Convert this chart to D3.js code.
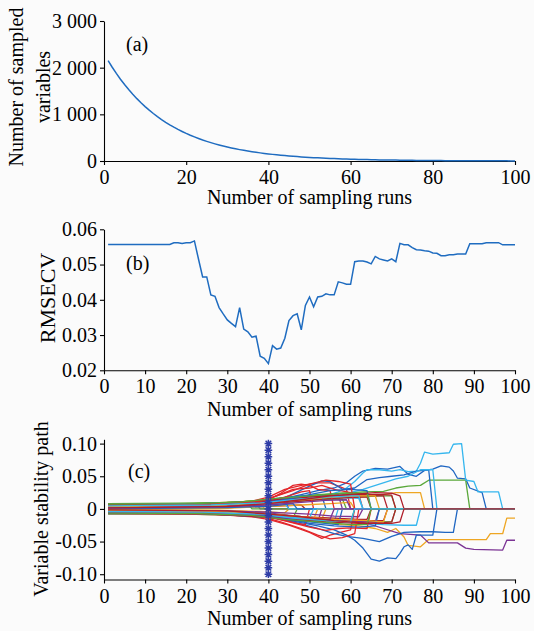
<!DOCTYPE html>
<html>
<head>
<meta charset="utf-8">
<script src="https://cdn.jsdelivr.net/npm/d3@7"></script>
<style>
  body { margin: 0; background: #fbfbfb; }
  svg { display: block; }
</style>
</head>
<body>
<svg id="chart" width="534" height="631"></svg>
<script>
// ---- data ----
var runs = d3.range(1, 101);

// (a) number of sampled variables per run
var sampledVars = [2150, 2009, 1877, 1753, 1638, 1531, 1430, 1336, 1248, 1166,
  1090, 1018, 951, 889, 830, 776, 725, 677, 633, 591,
  552, 516, 482, 450, 421, 393, 367, 343, 321, 300,
  280, 261, 244, 228, 213, 199, 186, 174, 163, 152,
  142, 133, 124, 116, 108, 101, 94, 88, 82, 77,
  72, 67, 63, 59, 55, 51, 48, 45, 42, 39,
  36, 34, 32, 30, 28, 26, 24, 23, 21, 20,
  19, 17, 16, 15, 14, 13, 12, 11, 11, 10,
  9, 9, 8, 8, 7, 7, 6, 6, 5, 5,
  5, 4, 4, 4, 3, 3, 3, 3, 2, 2];

// (b) RMSECV per run
var rmsecv = [0.0557, 0.0557, 0.0557, 0.0557, 0.0557, 0.0557, 0.0557, 0.0557, 0.0557, 0.0557,
  0.0557, 0.0557, 0.0557, 0.0557, 0.0557, 0.0557, 0.0562, 0.0562, 0.0560, 0.0562,
  0.0562, 0.0567, 0.0515, 0.0465, 0.0465, 0.0414, 0.0410, 0.0378, 0.0360, 0.0343,
  0.0333, 0.0324, 0.0378, 0.0317, 0.0309, 0.0294, 0.0297, 0.0240, 0.0234, 0.0219,
  0.0270, 0.0260, 0.0263, 0.0291, 0.0341, 0.0355, 0.0360, 0.0315, 0.0384, 0.0408,
  0.0380, 0.0408, 0.0410, 0.0417, 0.0414, 0.0414, 0.0451, 0.0448, 0.0444, 0.0444,
  0.0508, 0.0510, 0.0510, 0.0507, 0.0502, 0.0523, 0.0516, 0.0513, 0.0510, 0.0516,
  0.0508, 0.0560, 0.0556, 0.0556, 0.0548, 0.0542, 0.0541, 0.0539, 0.0538, 0.0533,
  0.0532, 0.0525, 0.0525, 0.0528, 0.0528, 0.0530, 0.0530, 0.0530, 0.0559, 0.0559,
  0.0559, 0.0559, 0.0562, 0.0562, 0.0562, 0.0562, 0.0556, 0.0556, 0.0556, 0.0556];

// (c) regression coefficient paths, [run, coefficient] vertices, one group per line colour
var pathsBlue = [
  [[1,.003],[20,.004],[35,.008],[40,.01],[44,.016],[48,.022],[52,.028],[56,.032],[59,.04],[61,.05],[63,.058],[66,.062],[69,.061],[72,.065],[74,.053],[76,.05],[78,.059],[80,.061],[82,.066],[84,.064],[85,.058],[86,.047],[88,.046],[89,.032],[92,.025],[93,0],[100,0]],
  [[1,.001],[30,.005],[40,.009],[45,.02],[50,.035],[53,.043],[55,.042],[58,.03],[61,.032],[64,.045],[67,.048],[70,.05],[73,.052],[76,.058],[79,.06],[80,0],[100,0]],
  [[1,-.002],[25,-.004],[38,-.008],[42,-.014],[47,-.02],[52,-.026],[56,-.032],[59,-.04],[61,-.048],[63,-.06],[65,-.077],[67,-.08],[69,-.075],[71,-.076],[72,-.068],[73,-.058],[74,-.055],[75,-.062],[76,-.04],[80,-.04],[81,0],[100,0]],
  [[1,-.004],[30,-.006],[40,-.011],[46,-.02],[52,-.03],[56,-.038],[59,-.042],[63,-.045],[67,-.05],[70,-.042],[73,-.036],[77,-.035],[80,-.035],[83,-.036],[85,-.036],[86,0],[100,0]],
  [[1,.006],[20,.007],[36,.011],[42,.016],[48,.02],[53,.02],[54,0],[100,0]],
  [[1,-.006],[25,-.007],[38,-.012],[44,-.016],[50,-.02],[57,-.024],[58,0],[100,0]],
  [[1,0],[30,.002],[40,.004],[46,.008],[47,0],[100,0]],
  [[1,.0045],[26,.005],[38,.009],[44,.014],[50,.022],[55,.028],[60,.03],[64,.028],[65,0],[100,0]],
  [[1,-.0035],[24,-.004],[38,-.009],[44,-.014],[50,-.022],[56,-.026],[62,-.028],[66,-.026],[67,0],[100,0]]
];
var pathsRed = [
  [[1,.005],[20,.006],[36,.012],[40,.018],[44,.03],[48,.036],[52,.04],[55,.04],[57,.035],[59,.03],[60,0],[100,0]],
  [[1,-.005],[22,-.006],[36,-.012],[40,-.016],[45,-.025],[50,-.036],[53,-.045],[55,-.04],[58,-.035],[60,-.032],[61,0],[100,0]],
  [[1,.002],[25,.004],[38,.01],[42,.02],[46,.03],[50,.032],[53,.036],[56,.03],[60,.025],[62,.022],[63,0],[100,0]],
  [[1,-.002],[28,-.005],[40,-.012],[45,-.02],[50,-.028],[54,-.033],[57,-.03],[60,-.029],[64,-.03],[65,0],[100,0]],
  [[1,.007],[18,.007],[35,.009],[40,.012],[44,.018],[48,.026],[50,.028],[51,0],[100,0]],
  [[1,-.007],[20,-.008],[36,-.01],[42,-.015],[47,-.022],[49,-.024],[50,0],[100,0]],
  [[1,.0035],[30,.006],[40,.014],[43,.024],[46,.036],[48,.038],[50,.036],[52,.03],[55,.028],[56,0],[100,0]],
  [[1,.0055],[24,.007],[38,.012],[42,.02],[46,.028],[50,.038],[54,.044],[57,.042],[60,.038],[61,0],[100,0]],
  [[1,-.0055],[24,-.006],[38,-.011],[43,-.02],[48,-.03],[52,-.04],[55,-.046],[58,-.044],[61,-.038],[62,0],[100,0]]
];
var pathsYellow = [
  [[1,-.003],[25,-.005],[38,-.008],[45,-.014],[52,-.02],[58,-.024],[62,-.026],[66,-.03],[69,-.036],[71,-.03],[73,-.043],[74,-.056],[77,-.058],[79,-.047],[93,-.047],[94,-.038],[97,-.038],[98,-.014],[100,-.014]],
  [[1,.002],[25,.003],[38,.006],[44,.01],[50,.014],[56,.017],[60,.019],[64,.02],[68,.022],[71,.025],[77,.025],[78,0],[100,0]],
  [[1,.006],[22,.008],[34,.011],[38,.013],[39,0],[100,0]],
  [[1,-.006],[20,-.007],[36,-.01],[42,-.013],[48,-.015],[53,-.016],[54,0],[100,0]],
  [[1,0],[30,.001],[40,.004],[48,.006],[55,.008],[60,.01],[61,0],[100,0]],
  [[1,-.001],[28,-.002],[38,-.004],[44,-.006],[45,0],[100,0]],
  [[1,-.0045],[28,-.006],[40,-.01],[46,-.014],[51,-.016],[52,0],[100,0]],
  [[1,.0035],[26,.005],[40,.009],[48,.014],[55,.018],[62,.02],[66,.02],[67,0],[100,0]],
  [[1,-.0025],[26,-.004],[40,-.008],[48,-.012],[56,-.016],[64,-.018],[68,-.02],[69,0],[100,0]]
];
var pathsPurple = [
  [[1,-.001],[30,-.003],[40,-.006],[48,-.012],[55,-.016],[60,-.018],[64,-.022],[68,-.03],[72,-.038],[77,-.04],[79,-.052],[86,-.052],[88,-.06],[90,-.062],[97,-.063],[98,-.048],[100,-.048]],
  [[1,.003],[24,.004],[36,.007],[42,.012],[48,.018],[52,.02],[57,.022],[58,0],[100,0]],
  [[1,-.005],[20,-.006],[34,-.008],[40,-.012],[46,-.018],[52,-.02],[53,0],[100,0]],
  [[1,.005],[30,.006],[37,.008],[38,0],[100,0]],
  [[1,-.0045],[30,-.006],[41,-.01],[49,-.013],[58,-.018],[64,-.02],[66,-.02],[67,0],[100,0]],
  [[1,.0065],[22,.007],[32,.009],[38,.011],[44,.013],[45,0],[100,0]],
  [[1,-.0025],[30,-.003],[40,-.005],[50,-.008],[56,-.011],[62,-.012],[63,0],[100,0]],
  [[1,.0015],[28,.003],[40,.006],[48,.01],[54,.013],[59,.014],[60,0],[100,0]],
  [[1,-.006],[22,-.007],[36,-.01],[44,-.014],[50,-.016],[55,-.016],[56,0],[100,0]]
];
var pathsGreen = [
  [[1,.004],[20,.006],[32,.01],[40,.014],[46,.018],[52,.022],[58,.024],[63,.026],[68,.027],[71,.032],[74,.035],[77,.036],[79,.044],[88,.044],[89,0],[100,0]],
  [[1,.002],[30,.003],[40,.008],[48,.012],[55,.016],[62,.018],[67,.02],[70,.02],[71,0],[100,0]],
  [[1,-.002],[30,-.004],[40,-.008],[48,-.012],[56,-.016],[63,-.019],[70,-.02],[71,0],[100,0]],
  [[1,.008],[18,.009],[30,.01],[36,.012],[42,.012],[50,.014],[58,.015],[59,0],[100,0]],
  [[1,-.008],[20,-.008],[32,-.01],[40,-.013],[46,-.014],[47,0],[100,0]],
  [[1,.006],[25,.007],[35,.008],[36,0],[100,0]],
  [[1,-.005],[24,-.006],[38,-.009],[46,-.014],[54,-.018],[60,-.02],[61,0],[100,0]],
  [[1,.0075],[22,.008],[34,.011],[42,.016],[50,.02],[58,.024],[64,.024],[65,0],[100,0]],
  [[1,-.0065],[22,-.007],[36,-.01],[44,-.016],[52,-.02],[60,-.024],[64,-.024],[65,0],[100,0]]
];
var pathsCyan = [
  [[1,.001],[20,.003],[35,.006],[40,.009],[45,.012],[50,.016],[54,.02],[57,.026],[59,.032],[61,.042],[63,.055],[64,.06],[67,.06],[70,.058],[72,.06],[74,.057],[76,.058],[77,.07],[78,.087],[80,.084],[84,.086],[85,.099],[87,.1],[88,.044],[90,.042],[91,.026],[96,.026],[97,0],[100,0]],
  [[1,-.001],[26,.001],[40,.006],[46,.012],[52,.018],[58,.022],[63,.03],[67,.038],[71,.046],[74,.05],[77,.06],[80,.06],[81,0],[100,0]],
  [[1,-.003],[22,-.004],[38,-.007],[45,-.012],[52,-.016],[58,-.018],[63,-.022],[68,-.024],[73,-.025],[76,-.025],[77,0],[100,0]],
  [[1,.007],[24,.008],[36,.01],[42,.014],[48,.016],[55,.018],[62,.016],[63,0],[100,0]],
  [[1,-.007],[22,-.007],[34,-.01],[40,-.012],[48,-.016],[56,-.02],[57,0],[100,0]],
  [[1,.0025],[30,.004],[38,.006],[44,.008],[45,0],[100,0]],
  [[1,-.0055],[20,-.006],[36,-.009],[43,-.012],[50,-.014],[51,0],[100,0]],
  [[1,.0045],[26,.006],[38,.009],[46,.014],[54,.018],[60,.02],[62,.02],[63,0],[100,0]],
  [[1,-.004],[24,-.005],[38,-.008],[46,-.014],[54,-.018],[60,-.02],[61,0],[100,0]]
];
var pathsDarkRed = [
  [[1,.0005],[30,.002],[40,.004],[48,.006],[49,0],[100,0]],
  [[1,.005],[25,.006],[38,.01],[46,.014],[54,.018],[60,.02],[66,.02],[68,.02],[69,0],[100,0]],
  [[1,-.005],[25,-.006],[38,-.01],[46,-.014],[54,-.016],[60,-.018],[66,-.018],[68,-.018],[69,0],[100,0]],
  [[1,.003],[28,.005],[40,.008],[48,.012],[56,.016],[62,.018],[64,.018],[65,0],[100,0]],
  [[1,-.003],[28,-.005],[40,-.008],[48,-.012],[56,-.014],[62,-.016],[64,-.016],[65,0],[100,0]],
  [[1,.0065],[24,.007],[38,.012],[46,.016],[54,.02],[62,.022],[68,.022],[70,.021],[71,0],[100,0]],
  [[1,-.0065],[24,-.007],[38,-.012],[46,-.016],[54,-.02],[62,-.022],[68,-.021],[70,-.02],[71,0],[100,0]],
  [[1,.0015],[30,.004],[40,.008],[48,.014],[55,.02],[62,.023],[66,.025],[70,.024],[72,.02],[73,0],[100,0]],
  [[1,-.0015],[30,-.003],[40,-.008],[48,-.012],[56,-.018],[64,-.022],[70,-.022],[72,-.02],[73,0],[100,0]]
];

// optimal run marker
var bestRun = 40;
var markerValues = [0.10, 0.09, 0.08, 0.07, 0.06, 0.05, 0.04, 0.03, 0.02, 0.01, 0,
  -0.01, -0.02, -0.03, -0.04, -0.05, -0.06, -0.07, -0.08, -0.09, -0.10];

// ticks
var runTicksA = [0, 20, 40, 60, 80, 100];
var runTicks = [0, 10, 20, 30, 40, 50, 60, 70, 80, 90, 100];
var countTicks = [0, 1000, 2000, 3000];
var countTickLabels = ["0", "1 000", "2 000", "3 000"];
var rmseTicks = [0.02, 0.03, 0.04, 0.05, 0.06];
var rmseTickLabels = ["0.02", "0.03", "0.04", "0.05", "0.06"];
var coefTicks = [-0.1, -0.05, 0, 0.05, 0.1];
var coefTickLabels = ["-0.10", "-0.05", "0", "0.05", "0.10"];

// ---- drawing ----
var FONT = "'Liberation Serif', 'Times New Roman', serif";
var svg = d3.select("#chart")
    .attr("font-family", FONT)
    .attr("font-size", 20);

var x = d3.scaleLinear().domain([0, 100]).range([104, 515]);
var lineBlue = "#1f6cc0";

function axes(y, bottom, xTicks, yTicks, yLabels) {
    svg.append("g")
        .attr("transform", "translate(0," + bottom + ")")
        .call(d3.axisBottom(x).tickValues(xTicks).tickSize(4).tickPadding(5).tickSizeOuter(0))
        .call(styleAxis);
    svg.append("g")
        .attr("transform", "translate(104,0)")
        .call(d3.axisLeft(y).tickValues(yTicks).tickFormat(function (d, i) { return yLabels[i]; })
            .tickSize(4).tickPadding(3).tickSizeOuter(0))
        .call(styleAxis);
}
function styleAxis(g) {
    g.attr("font-size", null).attr("font-family", null);
    g.selectAll("path,line").attr("stroke", "#000").attr("stroke-width", 1.1);
    g.selectAll("text").attr("fill", "#000");
}
function label(txt, px, py, rot, anchor, size) {
    svg.append("text")
        .attr("transform", "translate(" + px + "," + py + ")" + (rot ? "rotate(-90)" : ""))
        .attr("text-anchor", anchor || "middle")
        .attr("font-size", size || null)
        .attr("fill", "#000")
        .text(txt);
}

// (a)
var yA = d3.scaleLinear().domain([0, 3000]).range([161, 21]);
axes(yA, 161, runTicksA, countTicks, countTickLabels);
svg.append("path")
    .datum(sampledVars)
    .attr("fill", "none")
    .attr("stroke", lineBlue)
    .attr("stroke-width", 1.5)
    .attr("d", d3.line().x(function (d, i) { return x(runs[i]); }).y(function (d) { return yA(d); }));
label("(a)", 126, 51, false, "start");
label("Number of sampled", 23, 87, true);
label("variables", 50, 87, true);
label("Number of sampling runs", 309.5, 204);

// (b)
var yB = d3.scaleLinear().domain([0.02, 0.06]).range([370.3, 229.3]);
axes(yB, 370.3, runTicks, rmseTicks, rmseTickLabels);
svg.append("path")
    .datum(rmsecv)
    .attr("fill", "none")
    .attr("stroke", lineBlue)
    .attr("stroke-width", 1.5)
    .attr("d", d3.line().x(function (d, i) { return x(runs[i]); }).y(function (d) { return yB(d); }));
label("(b)", 126, 270, false, "start");
label("RMSECV", 55, 298, true, "middle", 22);
label("Number of sampling runs", 309.5, 416);

// (c)
var yC = d3.scaleLinear().domain([-0.1081, 0.1066]).range([579.5, 439.3]);
axes(yC, 579.5, runTicks, coefTicks, coefTickLabels);

var groups = [
    {name: "blue", paths: pathsBlue},
    {name: "red", paths: pathsRed},
    {name: "yellow", paths: pathsYellow},
    {name: "purple", paths: pathsPurple},
    {name: "green", paths: pathsGreen},
    {name: "cyan", paths: pathsCyan},
    {name: "darkred", paths: pathsDarkRed}
];
var color = d3.scaleOrdinal()
    .domain(groups.map(function (g) { return g.name; }))
    .range(["#1f66c2", "#e3262a", "#eea623", "#7b3394", "#5aa83a", "#35b6ee", "#b01f2b"]);

// plotting order like the original: colours cycle, one path each
var ordered = [];
var longest = d3.max(groups, function (g) { return g.paths.length; });
for (var i = 0; i < longest; i++) {
    groups.forEach(function (g) {
        if (g.paths[i]) ordered.push({name: g.name, pts: g.paths[i]});
    });
}
var coefLine = d3.line().x(function (d) { return x(d[0]); }).y(function (d) { return yC(d[1]); });
svg.append("g")
    .selectAll("path")
    .data(ordered)
    .enter().append("path")
    .attr("fill", "none")
    .attr("stroke", function (d) { return color(d.name); })
    .attr("stroke-width", 1.3)
    .attr("stroke-linejoin", "round")
    .attr("d", function (d) { return coefLine(d.pts); });

// marker column at the best run
var starColor = "#2e3ca6";
svg.append("path")
    .datum(markerValues)
    .attr("fill", "none")
    .attr("stroke", starColor)
    .attr("stroke-width", 1.2)
    .attr("d", d3.line().x(function () { return x(bestRun); }).y(function (d) { return yC(d); }));
svg.append("g")
    .selectAll("path")
    .data(markerValues)
    .enter().append("path")
    .attr("transform", function (d) { return "translate(" + x(bestRun) + "," + yC(d) + ")"; })
    .attr("fill", "none")
    .attr("stroke", starColor)
    .attr("stroke-width", 1.5)
    .attr("d", "M-3.8,0H3.8M0,-3.8V3.8M-2.8,-2.8L2.8,2.8M-2.8,2.8L2.8,-2.8");

label("(c)", 128, 478, false, "start");
label("Variable stability path", 48, 509, true);
label("Number of sampling runs", 309.5, 625);
</script>
</body>
</html>
